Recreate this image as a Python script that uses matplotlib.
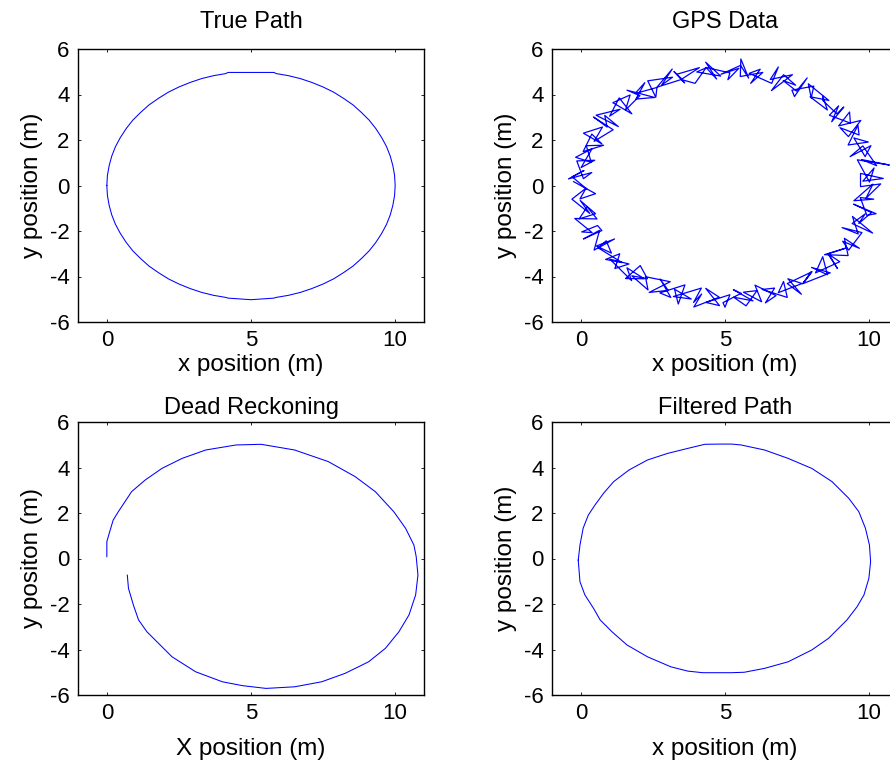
import matplotlib
matplotlib.use("Agg")
import matplotlib.pyplot as plt

plt.rcParams['font.family'] = ['Liberation Sans', 'DejaVu Sans']
plt.rcParams['axes.unicode_minus'] = False

# ---- True path ----
true_x = [0.00, 0.02, 0.08, 0.17, 0.30, 0.47, 0.67, 0.90, 1.17, 1.46, 1.79, 2.13, 2.50, 2.89, 3.29, 3.71,
          4.13, 4.20, 5.80, 5.87, 6.29, 6.71, 7.11, 7.50, 7.87, 8.21, 8.54, 8.83, 9.10, 9.33, 9.53, 9.70,
          9.83, 9.92, 9.98, 10.00, 9.98, 9.92, 9.83, 9.70, 9.53, 9.33, 9.10, 8.83, 8.54, 8.21, 7.87, 7.50,
          7.11, 6.71, 6.29, 5.87, 5.80, 5.00, 4.20, 4.13, 3.71, 3.29, 2.89, 2.50, 2.13, 1.79, 1.46, 1.17,
          0.90, 0.67, 0.47, 0.30, 0.17, 0.08, 0.02, 0.00]
true_y = [0.00, 0.44, 0.87, 1.29, 1.71, 2.11, 2.50, 2.87, 3.21, 3.54, 3.83, 4.10, 4.33, 4.53, 4.70, 4.83,
          4.92, 4.97, 4.97, 4.92, 4.83, 4.70, 4.53, 4.33, 4.10, 3.83, 3.54, 3.21, 2.87, 2.50, 2.11, 1.71,
          1.29, 0.87, 0.44, 0.00, -0.44, -0.87, -1.29, -1.71, -2.11, -2.50, -2.87, -3.21, -3.54, -3.83,
          -4.10, -4.33, -4.53, -4.70, -4.83, -4.92, -4.95, -5.02, -4.95, -4.92, -4.83, -4.70, -4.53, -4.33,
          -4.10, -3.83, -3.54, -3.21, -2.87, -2.50, -2.11, -1.71, -1.29, -0.87, -0.44, 0.00]

# ---- GPS data (noisy readings) ----
gps_x = [0.20, -0.30, 0.11, -0.43, 0.38, 0.09, -0.14, 0.48, 0.01, 0.39, -0.18, 0.36, 0.19, 0.79, 0.08,
         0.38, 0.73, 0.09, 0.75, 0.46, 1.12, 0.44, 0.91, 0.83, 1.30, 0.53, 1.36, 1.00, 1.33, 1.77,
         1.11, 1.71, 1.55, 2.05, 1.60, 2.56, 1.91, 2.22, 1.88, 2.64, 2.60, 2.32, 3.18, 2.80, 3.17,
         2.64, 3.51, 3.23, 3.60, 3.33, 4.11, 3.48, 3.96, 4.34, 4.02, 4.85, 4.33, 4.71, 4.34, 5.17,
         5.10, 5.48, 4.86, 5.54, 5.82, 5.55, 5.53, 6.31, 5.89, 6.22, 5.84, 6.62, 6.85, 6.57, 7.34,
         6.61, 7.03, 7.45, 7.02, 7.48, 7.85, 7.41, 7.32, 8.08, 7.99, 7.89, 8.60, 7.95, 8.55, 8.39,
         8.39, 8.88, 9.12, 8.70, 8.94, 8.62, 9.35, 9.32, 8.94, 9.71, 9.28, 8.99, 9.65, 9.61, 9.27,
         9.97, 9.47, 9.86, 10.06, 9.34, 9.78, 10.26, 9.74, 10.70, 9.59, 10.01, 10.17, 9.78, 10.49, 9.70,
         9.70, 10.40, 9.89, 10.13, 9.47, 10.16, 9.69, 9.92, 10.24, 9.46, 10.08, 9.64, 9.86, 9.41, 10.12,
         9.42, 9.62, 9.06, 9.75, 9.29, 9.08, 9.66, 9.14, 9.27, 8.45, 9.22, 8.59, 8.90, 8.57, 8.98,
         8.14, 8.39, 8.55, 8.00, 8.65, 7.69, 7.99, 7.73, 8.02, 7.16, 7.65, 7.18, 7.67, 6.85, 7.03,
         7.16, 6.29, 6.72, 6.40, 6.77, 6.04, 6.27, 5.64, 6.11, 5.73, 5.30, 5.97, 5.29, 5.56, 4.93,
         5.00, 5.17, 4.34, 4.81, 4.33, 4.80, 3.92, 4.19, 3.91, 4.18, 3.21, 3.83, 3.25, 3.38, 3.61,
         2.74, 3.12, 2.75, 3.03, 2.37, 3.10, 2.24, 2.33, 1.77, 2.31, 2.06, 1.55, 2.20, 1.60, 1.76,
         1.01, 1.67, 1.18, 1.35, 0.86, 1.43, 0.60, 0.88, 1.06, 0.54, 1.17, 0.46, 0.65, 0.09, 0.73,
         0.58, 0.03, 0.39, -0.21, 0.56, 0.22, -0.06, 0.51, -0.02, 0.31, -0.31, 0.18, -0.03, 0.51, -0.25]
gps_y = [-0.15, 0.38, 0.66, 0.29, 0.57, 0.30, 1.08, 1.11, 0.79, 1.62, 1.24, 1.02, 1.75, 1.77, 1.49,
         2.26, 1.83, 2.30, 2.57, 1.94, 2.45, 3.01, 2.57, 3.08, 2.59, 3.09, 3.35, 3.05, 3.85, 3.15,
         3.64, 3.98, 3.32, 3.95, 4.19, 3.87, 3.80, 4.52, 4.04, 4.31, 3.88, 4.60, 4.76, 4.41, 5.12,
         4.32, 4.67, 5.01, 4.51, 4.89, 5.18, 4.66, 4.49, 5.17, 4.99, 4.81, 5.42, 4.68, 5.19, 4.95,
         4.65, 5.15, 4.89, 5.28, 4.72, 5.56, 4.79, 4.97, 4.49, 5.11, 4.93, 4.49, 5.21, 4.66, 4.87,
         4.17, 4.87, 4.41, 4.61, 4.15, 4.73, 3.91, 4.19, 4.37, 3.85, 4.47, 3.74, 3.90, 3.32, 3.93,
         3.74, 3.15, 3.45, 2.80, 3.50, 3.09, 2.74, 3.23, 2.62, 2.86, 2.15, 2.54, 2.22, 2.65, 1.78,
         1.91, 2.09, 1.27, 1.75, 1.27, 1.74, 0.87, 1.14, 0.90, 1.13, 0.15, 0.77, 0.19, 0.31, 0.53,
         -0.05, 0.07, -0.56, 0.06, -0.67, -0.60, -0.53, -1.31, -1.24, -0.82, -1.19, -1.67, -1.25, -1.67, -2.09,
         -1.36, -2.13, -1.85, -2.07, -2.84, -2.45, -2.76, -2.32, -3.08, -3.04, -2.74, -3.00, -3.65, -3.00, -3.35,
         -3.84, -3.13, -3.92, -3.60, -3.84, -4.32, -3.80, -4.27, -3.79, -4.31, -4.78, -4.10, -4.31, -4.71, -4.22,
         -4.92, -4.57, -4.51, -5.16, -4.84, -4.38, -5.11, -4.69, -4.62, -5.29, -4.91, -5.07, -4.58, -4.74, -5.15,
         -5.35, -4.80, -5.14, -5.28, -4.52, -4.91, -5.34, -4.77, -5.14, -4.51, -4.88, -4.99, -4.56, -5.21, -4.37,
         -4.72, -4.92, -4.11, -4.61, -4.70, -4.23, -4.01, -4.59, -3.97, -4.10, -3.52, -4.09, -4.10, -3.62, -4.18,
         -3.24, -3.45, -3.65, -3.00, -3.25, -3.39, -2.74, -2.43, -2.97, -2.66, -2.35, -2.84, -1.97, -2.35, -1.98,
         -1.76, -2.04, -2.07, -1.45, -1.47, -0.94, -1.47, -1.24, -0.66, -1.23, -0.60, -0.12, -0.59, -0.36, 0.17]

# ---- Dead reckoning ----
dr_x = [0.00, 0.00, 0.10, 0.22, 0.40, 0.63, 0.86, 1.33, 1.91, 2.61, 3.43, 4.48, 5.35, 6.51, 7.68, 8.61,
        9.31, 9.95, 10.36, 10.65, 10.73, 10.79, 10.71, 10.48, 10.13, 9.66, 9.08, 8.26, 7.45, 6.51, 5.52,
        4.71, 4.01, 3.08, 2.26, 1.39, 1.10, 0.92, 0.75, 0.71]
dr_y = [0.08, 0.74, 1.18, 1.69, 2.06, 2.50, 2.94, 3.45, 3.96, 4.40, 4.77, 4.99, 5.02, 4.77, 4.26, 3.60,
        2.94, 2.06, 1.33, 0.59, 0.08, -0.73, -1.60, -2.48, -3.22, -3.95, -4.54, -5.05, -5.42, -5.64, -5.71,
        -5.59, -5.42, -4.98, -4.32, -3.22, -2.70, -2.04, -1.31, -0.73]

# ---- Filtered path ----
filt_x = [-0.09, -0.03, 0.08, 0.26, 0.49, 0.79, 1.14, 1.67, 2.31, 3.01, 3.71, 4.30, 4.86, 5.23, 5.56, 6.37,
          7.19, 8.01, 8.71, 9.29, 9.64, 9.87, 10.01, 10.05, 9.99, 9.82, 9.58, 9.23, 8.59, 8.01, 7.19, 6.37,
          5.67, 5.23, 4.86, 4.23, 3.71, 3.12, 2.31, 1.60, 1.08, 0.67, 0.44, 0.14, -0.03, -0.09]
filt_y = [-0.07, 0.59, 1.33, 1.91, 2.35, 2.87, 3.38, 3.89, 4.33, 4.62, 4.84, 5.02, 5.03, 5.03, 4.99, 4.77,
          4.40, 3.96, 3.38, 2.65, 2.06, 1.33, 0.59, -0.14, -0.87, -1.60, -2.12, -2.70, -3.51, -4.02, -4.54,
          -4.83, -5.00, -5.02, -5.02, -5.02, -4.95, -4.76, -4.32, -3.80, -3.22, -2.70, -2.19, -1.60, -1.02,
          -0.07]

titles = ["True Path", "GPS Data", "Dead Reckoning", "Filtered Path"]
xlabels = ["x position (m)", "x position (m)", "X position (m)", "x position (m)"]
ylabels = ["y position (m)", "y position (m)", "y positon (m)", "y position (m)"]
series = [(true_x, true_y), (gps_x, gps_y), (dr_x, dr_y), (filt_x, filt_y)]

W, H = 890, 764
fig = plt.figure(figsize=(W / 100, H / 100), dpi=100)
boxes = [(78, 49), (552, 49), (78, 422), (552, 422)]
bw, bh = 346, 273

for i, (bx, by) in enumerate(boxes):
    ax = fig.add_axes([bx / W, 1 - (by + bh) / H, bw / W, bh / H])
    x, y = series[i]
    ax.plot(x, y, color=(0, 0, 1), lw=0.75 if i != 1 else 0.9)
    ax.set_xlim(-1, 11)
    ax.set_ylim(-6, 6)
    ax.set_xticks([0, 5, 10])
    ax.set_yticks([-6, -4, -2, 0, 2, 4, 6])
    ax.tick_params(direction='in', length=2.5, width=0.6, top=True, right=True,
                   labelsize=16, pad=6)
    for s in ax.spines.values():
        s.set_linewidth(1.0)
    top = i < 2
    ax.set_title(titles[i], fontsize=17, pad=15 if top else 6)
    ax.set_xlabel(xlabels[i], fontsize=17.5, labelpad=2 if top else 10)
    ax.set_ylabel(ylabels[i], fontsize=17.5, labelpad=5)

fig.savefig("out.png", dpi=100, facecolor='white')
